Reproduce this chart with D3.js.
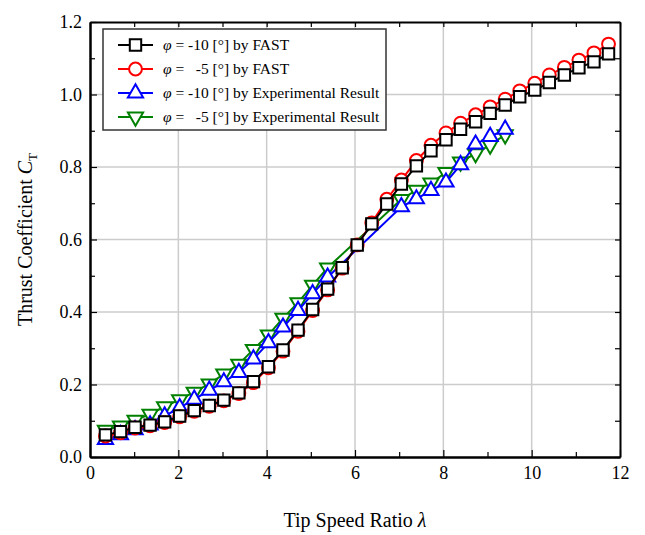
<!DOCTYPE html>
<html lang="en">
<head>
<meta charset="UTF-8">
<title>Thrust Coefficient vs Tip Speed Ratio</title>
<script src="https://d3js.org/d3.v7.min.js"></script>
<style>
    body {
        margin: 0;
        background: #fff;
    }
    svg text {
        font-family: "Liberation Serif", "Times New Roman", serif;
        fill: #000;
    }
</style>
</head>
<body>
<div id="chart"></div>
<script>
// tip speed ratio grid of the FAST runs
const lambdaFast = [0.35, 0.69, 1.02, 1.36, 1.69, 2.03, 2.36, 2.70, 3.03, 3.37, 3.70, 4.04,
    4.37, 4.71, 5.04, 5.38, 5.71, 6.05, 6.38, 6.72, 7.05, 7.39, 7.72, 8.06, 8.39, 8.73,
    9.06, 9.40, 9.73, 10.07, 10.40, 10.74, 11.07, 11.41, 11.74];
const ctFastM10 = [0.061, 0.070, 0.082, 0.088, 0.097, 0.113, 0.128, 0.142, 0.157, 0.177, 0.208, 0.249,
    0.295, 0.350, 0.407, 0.463, 0.522, 0.585, 0.643, 0.698, 0.753, 0.803, 0.845, 0.875, 0.904, 0.925,
    0.948, 0.971, 0.994, 1.012, 1.033, 1.054, 1.074, 1.090, 1.112];
const ctFastM5 = [0.058, 0.067, 0.080, 0.086, 0.095, 0.111, 0.126, 0.140, 0.155, 0.175, 0.205, 0.246,
    0.292, 0.347, 0.404, 0.461, 0.521, 0.585, 0.646, 0.711, 0.764, 0.818, 0.860, 0.894, 0.921, 0.944,
    0.966, 0.987, 1.010, 1.031, 1.054, 1.075, 1.095, 1.115, 1.139];

// experimental points (gap between 5.4 and 7.0)
const lambdaExp = [0.35, 0.69, 1.02, 1.36, 1.69, 2.03, 2.36, 2.70, 3.03, 3.37, 3.70, 4.04,
    4.37, 4.71, 5.04, 5.38, 7.05, 7.39, 7.72, 8.06, 8.39, 8.73, 9.06, 9.40];
const ctExpM10 = [0.048, 0.061, 0.075, 0.088, 0.113, 0.136, 0.159, 0.184, 0.207, 0.233, 0.270, 0.315,
    0.358, 0.404, 0.450, 0.496, 0.690, 0.712, 0.735, 0.758, 0.806, 0.863, 0.884, 0.904];
const ctExpM5 = [0.074, 0.086, 0.102, 0.118, 0.139, 0.158, 0.179, 0.202, 0.229, 0.256, 0.297, 0.337,
    0.383, 0.426, 0.474, 0.522, 0.711, 0.736, 0.756, 0.785, 0.814, 0.837, 0.861, 0.889];

const xTicks = [0, 2, 4, 6, 8, 10, 12];
const xMinor = [1, 3, 5, 7, 9, 11];
const yTicks = [0, 0.2, 0.4, 0.6, 0.8, 1.0, 1.2];
const yMinor = [0.1, 0.3, 0.5, 0.7, 0.9, 1.1];

const legendAngles = ["-10", "  -5", "-10", "  -5"];
const legendSources = ["by FAST", "by FAST", "by Experimental Result", "by Experimental Result"];

const width = 645, height = 535;
const plot = { left: 90, right: 620, top: 22, bottom: 457 };
const serif = "'Liberation Serif', 'Times New Roman', serif";

const svg = d3.select("#chart").append("svg")
    .attr("width", width)
    .attr("height", height);

const x = d3.scaleLinear().domain([0, 12]).range([plot.left, plot.right]);
const y = d3.scaleLinear().domain([0, 1.2]).range([plot.bottom, plot.top]);

// grid
const grid = svg.append("g").attr("stroke", "#cccccc").attr("stroke-width", 1.5);
grid.selectAll("line.gx").data(xTicks.slice(1, -1)).enter().append("line")
    .attr("x1", d => x(d)).attr("x2", d => x(d))
    .attr("y1", plot.top).attr("y2", plot.bottom);
grid.selectAll("line.gy").data(yTicks.slice(1, -1)).enter().append("line")
    .attr("y1", d => y(d)).attr("y2", d => y(d))
    .attr("x1", plot.left).attr("x2", plot.right);

// series
const series = [
    { xs: lambdaExp, ys: ctExpM5, color: "#008000", marker: "down" },
    { xs: lambdaExp, ys: ctExpM10, color: "#0000ff", marker: "up" },
    { xs: lambdaFast, ys: ctFastM5, color: "#ff0000", marker: "circle" },
    { xs: lambdaFast, ys: ctFastM10, color: "#000000", marker: "square" }
];

const line = d3.line().x(d => x(d[0])).y(d => y(d[1]));

const symbols = {
    square: d3.symbol().type(d3.symbolSquare).size(130),
    circle: d3.symbol().type(d3.symbolCircle).size(130),
    up: d3.symbol().type(d3.symbolTriangle).size(100),
    down: d3.symbol().type(d3.symbolTriangle).size(100)
};

function drawMarker(g, type, color) {
    const p = g.append("path")
        .attr("d", symbols[type]())
        .attr("fill", "#fff")
        .attr("stroke", color)
        .attr("stroke-width", 2);
    if (type === "down") p.attr("transform", "rotate(180)");
    return p;
}

series.forEach(s => {
    const pts = s.xs.map((v, i) => [v, s.ys[i]]);
    const g = svg.append("g");
    g.append("path")
        .attr("d", line(pts))
        .attr("fill", "none")
        .attr("stroke", s.color)
        .attr("stroke-width", 2);
    g.selectAll("g.m").data(pts).enter().append("g")
        .attr("transform", d => `translate(${x(d[0])},${y(d[1])})`)
        .each(function () { drawMarker(d3.select(this), s.marker, s.color); });
});

// axes, ticks pointing inwards
function styleAxis(g) {
    g.attr("font-family", serif).style("font-family", serif);
    g.select(".domain").attr("stroke", "#000").attr("stroke-width", 2);
    g.selectAll(".tick line").attr("stroke", "#000").attr("stroke-width", 1.2);
    g.selectAll("text")
        .attr("font-size", 18)
        .style("font-family", serif)
        .attr("fill", "#000");
}

svg.append("g").attr("transform", `translate(0,${plot.bottom})`)
    .call(d3.axisBottom(x).tickValues(xTicks).tickSize(-7).tickSizeOuter(0).tickPadding(9).tickFormat(d3.format("d")))
    .call(styleAxis);
svg.append("g").attr("transform", `translate(0,${plot.bottom})`)
    .call(d3.axisBottom(x).tickValues(xMinor).tickSize(-5).tickSizeOuter(0).tickFormat(""))
    .call(styleAxis);
svg.append("g").attr("transform", `translate(0,${plot.top})`)
    .call(d3.axisTop(x).tickValues(xTicks.concat(xMinor)).tickSize(-5).tickSizeOuter(0).tickFormat(""))
    .call(styleAxis);

svg.append("g").attr("transform", `translate(${plot.left},0)`)
    .call(d3.axisLeft(y).tickValues(yTicks).tickSize(-7).tickSizeOuter(0).tickPadding(8).tickFormat(d3.format(".1f")))
    .call(styleAxis);
svg.append("g").attr("transform", `translate(${plot.left},0)`)
    .call(d3.axisLeft(y).tickValues(yMinor).tickSize(-5).tickSizeOuter(0).tickFormat(""))
    .call(styleAxis);
svg.append("g").attr("transform", `translate(${plot.right},0)`)
    .call(d3.axisRight(y).tickValues(yTicks.concat(yMinor)).tickSize(-5).tickSizeOuter(0).tickFormat(""))
    .call(styleAxis);

// axis titles
const xTitle = svg.append("text")
    .attr("x", (plot.left + plot.right) / 2)
    .attr("y", 527)
    .attr("text-anchor", "middle")
    .attr("font-size", 20);
xTitle.append("tspan").text("Tip Speed Ratio ");
xTitle.append("tspan").attr("font-style", "italic").text("λ");

const yTitle = svg.append("text")
    .attr("transform", `translate(32,${(plot.top + plot.bottom) / 2}) rotate(-90)`)
    .attr("text-anchor", "middle")
    .attr("font-size", 20);
yTitle.append("tspan").text("Thrust Coefficient ");
yTitle.append("tspan").attr("font-style", "italic").text("C");
yTitle.append("tspan").attr("font-size", 13).attr("dy", 5).text("T");

// legend
const legend = svg.append("g").attr("transform", "translate(103,29)");
legend.append("rect")
    .attr("width", 283).attr("height", 101)
    .attr("fill", "#fff").attr("stroke", "#333").attr("stroke-width", 1.5);

const legendOrder = [3, 2, 1, 0];
legendOrder.forEach((si, i) => {
    const s = series[si];
    const row = legend.append("g").attr("transform", `translate(0,${16 + i * 24})`);
    row.append("line")
        .attr("x1", 15).attr("x2", 50)
        .attr("stroke", s.color).attr("stroke-width", 2);
    const mg = row.append("g").attr("transform", "translate(32.5,0)");
    drawMarker(mg, s.marker, s.color);
    const t = row.append("text")
        .attr("x", 60).attr("y", 5)
        .attr("font-size", 15.5)
        .attr("xml:space", "preserve")
        .style("white-space", "pre");
    t.append("tspan").attr("font-style", "italic").text("φ");
    t.append("tspan").text(` = ${legendAngles[i]} [°] ${legendSources[i]}`);
});
</script>
</body>
</html>
